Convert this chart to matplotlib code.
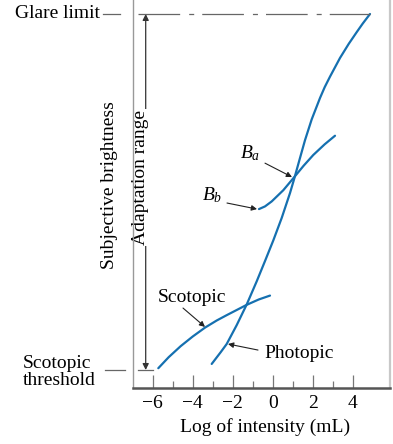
import matplotlib
matplotlib.use('Agg')
import matplotlib.pyplot as plt
import numpy as np

plt.rcParams['font.family'] = ['Liberation Serif', 'DejaVu Serif']
plt.rcParams['mathtext.fontset'] = 'custom'
plt.rcParams['mathtext.rm'] = 'Liberation Serif'
plt.rcParams['mathtext.it'] = 'Liberation Serif:italic'
plt.rcParams['lines.scale_dashes'] = False

# curves (x = log intensity, y = brightness, threshold=0, glare=10)
photopic_x = [-3.05, -2.6, -2.3, -1.8, -1.3, -0.8, -0.385, 0.03, 0.45, 0.865, 1.08,
              1.35, 1.615, 1.95, 2.365, 2.6, 2.865, 3.365, 3.8, 4.2, 4.5, 4.865]
photopic_y = [0.17, 0.50, 0.73, 1.26, 1.84, 2.49, 3.06, 3.64, 4.27, 4.97, 5.38,
              5.925, 6.455, 7.04, 7.64, 7.945, 8.24, 8.765, 9.16, 9.49, 9.73, 10.0]
scotopic_x = [-5.72, -5.2, -4.6, -4.0, -3.385, -2.8, -2.3, -1.3, -0.7, -0.135]
scotopic_y = [0.05, 0.36, 0.67, 0.94, 1.19, 1.39, 1.54, 1.83, 1.98, 2.09]
bb_x = [-0.685, -0.385, -0.05, 0.53, 1.08, 1.55, 2.03, 2.6, 3.115]
bb_y = [4.52, 4.595, 4.735, 5.05, 5.42, 5.74, 6.04, 6.34, 6.58]

glare = 10.0
threshold = 0.0
xticks = [-6, -4, -2, 0, 2, 4]
xminor = [-5, -3, -1, 1, 3]

blue = '#1570b0'
fs = 14

fig = plt.figure(figsize=(3.93, 4.44), dpi=100)
ax = fig.add_axes([133/393, 1-388/444, 257/393, 388/444])
ax.set_xlim(-6.985, 5.865)
ax.set_ylim(-0.506, 10.393)

for xs, ys in [(photopic_x, photopic_y), (scotopic_x, scotopic_y), (bb_x, bb_y)]:
    ax.plot(xs, ys, color=blue, lw=1.6, solid_capstyle='round', solid_joinstyle='round')

# glare limit and threshold guides
ax.plot([-6.73, 4.87], [glare, glare], color='#666666', lw=0.9,
        linestyle=(0, (30, 6.5, 3.6, 5.8)))
ax.plot([-6.735, -5.985], [threshold, threshold], color='#666666', lw=0.9)
ax.plot([-8.485, -7.635], [glare, glare], color='#666666', lw=0.9, clip_on=False)
ax.plot([-8.385, -7.385], [threshold, threshold], color='#666666', lw=0.9, clip_on=False)

ax.text(-8.635, glare, 'Glare limit', ha='right', va='center', fontsize=fs)
ax.text(-12.485, threshold - 0.05, 'Scotopic\nthreshold', ha='left', va='center',
        fontsize=fs, linespacing=1.02)

# adaptation range arrow
ax.annotate('', xy=(-6.35, glare), xytext=(-6.35, threshold),
            arrowprops=dict(arrowstyle='<|-|>', color='#333333', lw=0.9,
                            mutation_scale=9, shrinkA=0, shrinkB=0), zorder=1)
ax.text(-6.635, 5.41, 'Adaptation range', rotation=90, ha='center', va='center',
        fontsize=fs, zorder=2, bbox=dict(facecolor='white', edgecolor='none', pad=0.5))
ax.text(-8.185, 5.2, 'Subjective brightness', rotation=90, ha='center', va='center',
        fontsize=fs, clip_on=False)

# labels with pointers
arrow = dict(arrowstyle='-|>', color='#222222', lw=0.8, mutation_scale=8,
             shrinkA=0, shrinkB=0)
ax.text(-1.135, 6.10, '$B_a$', ha='center', va='center', fontsize=fs)
ax.annotate('', xy=(0.965, 5.42), xytext=(-0.385, 5.81), arrowprops=arrow)
ax.text(-3.035, 4.92, '$B_b$', ha='center', va='center', fontsize=fs)
ax.annotate('', xy=(-0.785, 4.52), xytext=(-2.285, 4.69), arrowprops=arrow)
ax.text(-4.035, 2.05, 'Scotopic', ha='center', va='center', fontsize=fs)
ax.annotate('', xy=(-3.385, 1.21), xytext=(-4.485, 1.74), arrowprops=arrow)
ax.text(1.315, 0.45, 'Photopic', ha='center', va='center', fontsize=fs)
ax.annotate('', xy=(-2.235, 0.73), xytext=(-0.735, 0.56), arrowprops=arrow)

# axes styling
ax.spines['top'].set_visible(False)
ax.spines['left'].set_color('#999999')
ax.spines['left'].set_linewidth(1.0)
ax.spines['right'].set_color('#c8c8c8')
ax.spines['right'].set_linewidth(1.6)
ax.spines['bottom'].set_color('#555555')
ax.spines['bottom'].set_linewidth(1.8)
ax.set_yticks([])
ax.set_xticks(xticks)
ax.set_xticklabels(['\u2212' + str(-t) if t < 0 else str(t) for t in xticks])
ax.set_xticks(xminor, minor=True)
ax.tick_params(axis='x', which='major', direction='in', length=9.5, width=0.9,
               color='#777777', labelsize=fs, pad=5)
ax.tick_params(axis='x', which='minor', direction='in', length=5, width=0.9,
               color='#777777')

fig.text(265/393, 1-427/444, 'Log of intensity (mL)', ha='center', va='center', fontsize=fs)

fig.savefig('out.png', dpi=100)
